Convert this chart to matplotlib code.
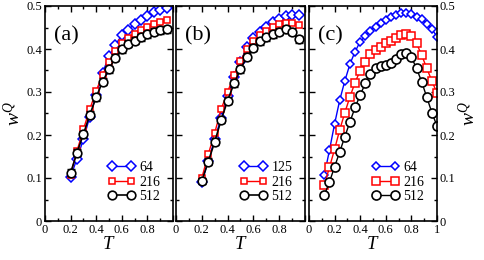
import numpy as np
import matplotlib
matplotlib.use("Agg")
import matplotlib.pyplot as plt
from matplotlib.ticker import MultipleLocator

plt.rcParams['font.family'] = ['Liberation Serif', 'DejaVu Serif']
plt.rcParams['mathtext.fontset'] = 'custom'
plt.rcParams['mathtext.it'] = 'Liberation Serif:italic'
plt.rcParams['mathtext.rm'] = 'Liberation Serif'

# panel (a)
T_a = [0.2, 0.25, 0.3, 0.35, 0.4, 0.45, 0.5, 0.55, 0.6, 0.65, 0.7, 0.75, 0.8, 0.85, 0.9, 0.95]
a_64 = [0.103, 0.145, 0.19, 0.243, 0.293, 0.345, 0.383, 0.41, 0.432, 0.445, 0.458, 0.467, 0.477, 0.485, 0.49, 0.496]
a_216 = [0.108, 0.163, 0.213, 0.26, 0.303, 0.34, 0.37, 0.396, 0.413, 0.426, 0.436, 0.444, 0.452, 0.457, 0.463, 0.467]
a_512 = [0.112, 0.159, 0.202, 0.247, 0.288, 0.324, 0.353, 0.38, 0.399, 0.412, 0.419, 0.427, 0.434, 0.44, 0.444, 0.446]
a_err = [0.008] * 16

# panel (b)
T_b = [0.2, 0.25, 0.3, 0.35, 0.4, 0.45, 0.5, 0.55, 0.6, 0.65, 0.7, 0.75, 0.8, 0.85, 0.9, 0.95]
b_125 = [0.09, 0.14, 0.19, 0.24, 0.29, 0.335, 0.37, 0.405, 0.425, 0.44, 0.452, 0.462, 0.47, 0.476, 0.48, 0.48]
b_216 = [0.1, 0.155, 0.205, 0.26, 0.3, 0.34, 0.373, 0.4, 0.418, 0.433, 0.443, 0.452, 0.457, 0.46, 0.46, 0.455]
b_512 = [0.093, 0.138, 0.184, 0.235, 0.28, 0.32, 0.353, 0.382, 0.403, 0.418, 0.427, 0.434, 0.44, 0.446, 0.44, 0.423]
b_err = [0.008] * 16

# panel (c)
T_c = [0.12, 0.16, 0.2, 0.24, 0.28, 0.32, 0.36, 0.4, 0.44, 0.48, 0.52, 0.56,
       0.6, 0.64, 0.68, 0.72, 0.76, 0.8, 0.84, 0.88, 0.92, 0.96, 1.0]
c_64 = [0.107, 0.165, 0.226, 0.281, 0.326, 0.365, 0.394, 0.417, 0.43, 0.443, 0.452, 0.46,
        0.467, 0.474, 0.479, 0.483, 0.484, 0.481, 0.475, 0.469, 0.458, 0.446, 0.429]
c_216 = [0.084, 0.125, 0.167, 0.212, 0.252, 0.289, 0.322, 0.35, 0.37, 0.388, 0.398, 0.405,
         0.413, 0.419, 0.425, 0.433, 0.435, 0.43, 0.413, 0.386, 0.355, 0.326, 0.297]
c_512 = [0.06, 0.091, 0.126, 0.161, 0.196, 0.231, 0.264, 0.293, 0.32, 0.343, 0.355, 0.36,
         0.363, 0.367, 0.376, 0.388, 0.391, 0.381, 0.355, 0.324, 0.288, 0.252, 0.221]

fig = plt.figure(figsize=(4.85, 2.6), dpi=100)
ax_a = fig.add_axes([45/485, 39/260, 128/485, 215/260])
ax_b = fig.add_axes([176/485, 39/260, 129/485, 215/260])
ax_c = fig.add_axes([309/485, 39/260, 128/485, 215/260])


def style(ax):
    ax.set_xlim(0, 1)
    ax.set_ylim(0, 0.5)
    ax.xaxis.set_major_locator(MultipleLocator(0.2))
    ax.xaxis.set_minor_locator(MultipleLocator(0.1))
    ax.yaxis.set_major_locator(MultipleLocator(0.1))
    ax.yaxis.set_minor_locator(MultipleLocator(0.05))
    ax.tick_params(which='both', direction='in', top=True, right=True, labelsize=9, pad=2)
    ax.tick_params(which='major', length=4, width=1)
    ax.tick_params(which='minor', length=2.5, width=1)
    for s in ax.spines.values():
        s.set_linewidth(1.2)
    ax.set_xlabel('$T$', fontsize=13.5, labelpad=0)


def draw_ab(ax, T, d, s, c, ed):
    h1, = ax.plot(T, d, color='blue', marker='D', ms=5.5, mfc='white', mec='blue', mew=1.1, lw=1)
    h2, = ax.plot(T, s, color='red', marker='s', ms=5, mfc='white', mec='red', mew=1.1, lw=1)
    ax.errorbar(T, c, yerr=ed, fmt='none', ecolor='black', capsize=3, elinewidth=1, capthick=1)
    h3, = ax.plot(T, c, color='black', marker='o', ms=6.2, mfc='white', mec='black', mew=1.2, lw=1.2)
    return [h1, h2, h3]


leg_kw = dict(loc='lower right', frameon=False, fontsize=10, numpoints=2, handlelength=2.0,
              handletextpad=0.3, labelspacing=0.1, bbox_to_anchor=(1.0, 0.025))
xl = ['0', '0.2', '0.4', '0.6', '0.8', '']
yl = ['0', '0.1', '0.2', '0.3', '0.4', '0.5']

style(ax_a)
hs = draw_ab(ax_a, T_a, a_64, a_216, a_512, a_err)
ax_a.legend(hs, ['64', '216', '512'], **leg_kw)
ax_a.set_xticks([0, 0.2, 0.4, 0.6, 0.8, 1.0])
ax_a.set_xticklabels(xl)
ax_a.set_yticks([0, 0.1, 0.2, 0.3, 0.4, 0.5])
ax_a.set_yticklabels(yl)
ax_a.set_ylabel('$w^Q$', fontsize=14, labelpad=2)
ax_a.text(0.07, 0.84, '(a)', transform=ax_a.transAxes, fontsize=16)

style(ax_b)
hs = draw_ab(ax_b, T_b, b_125, b_216, b_512, b_err)
ax_b.legend(hs, ['125', '216', '512'], **leg_kw)
ax_b.set_xticks([0, 0.2, 0.4, 0.6, 0.8, 1.0])
ax_b.set_xticklabels(xl)
ax_b.set_yticklabels([])
ax_b.text(0.07, 0.84, '(b)', transform=ax_b.transAxes, fontsize=16)

style(ax_c)
ax_c.plot(T_c, c_64, color='blue', marker='D', ms=4, mfc='white', mec='blue', mew=1.1, lw=1, label='64')
ax_c.plot(T_c, c_216, color='red', marker='s', ms=5.5, mfc='white', mec='red', mew=1.1, lw=1, label='216')
ax_c.plot(T_c, c_512, color='black', marker='o', ms=6.5, mfc='white', mec='black', mew=1.2, lw=1, label='512')
ax_c.legend(**leg_kw)
ax_c.set_xticks([0, 0.2, 0.4, 0.6, 0.8, 1.0])
ax_c.set_xticklabels(['0', '0.2', '0.4', '0.6', '0.8', '1'])
ax_c.set_yticks([0, 0.1, 0.2, 0.3, 0.4, 0.5])
ax_c.yaxis.tick_right()
ax_c.tick_params(which='both', left=True, right=True, labelleft=False, labelright=True)
ax_c.set_yticklabels(yl)
ax_c.yaxis.set_label_position('right')
ax_c.set_ylabel('$w^Q$', fontsize=14, labelpad=2)
ax_c.text(0.07, 0.84, '(c)', transform=ax_c.transAxes, fontsize=16)

fig.savefig('out.png', dpi=100)
